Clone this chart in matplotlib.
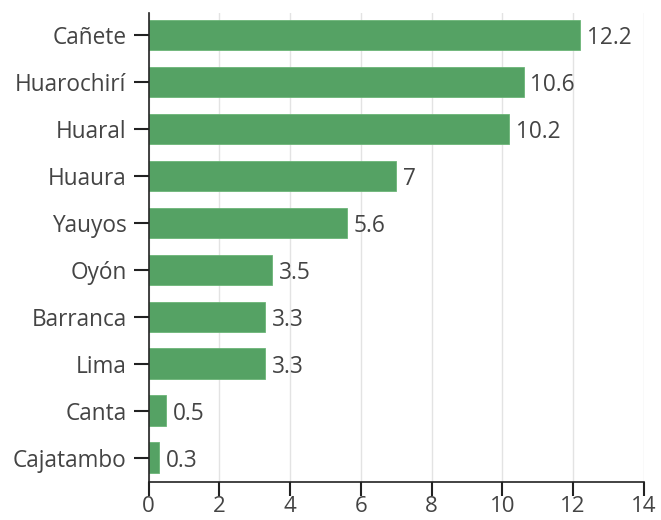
import matplotlib.pyplot as plt

provincias = ['Cañete', 'Huarochirí', 'Huaral', 'Huaura', 'Yauyos',
              'Oyón', 'Barranca', 'Lima', 'Canta', 'Cajatambo']
valores = [12.2, 10.6, 10.2, 7, 5.6, 3.5, 3.3, 3.3, 0.5, 0.3]
etiquetas = ['12.2', '10.6', '10.2', '7', '5.6', '3.5', '3.3', '3.3', '0.5', '0.3']
xticks = [0, 2, 4, 6, 8, 10, 12, 14]

plt.rcParams['font.family'] = ['Open Sans', 'DejaVu Sans']

fig = plt.figure(figsize=(6.61, 5.2), dpi=100)
ax = fig.add_axes([0.225, 0.0731, 0.749, 0.902])

pos = list(range(len(provincias)))
ax.barh(pos, valores, height=0.65, color='#55a264', edgecolor='#6bb577',
        linewidth=0.6, zorder=2)

for p, v, t in zip(pos, valores, etiquetas):
    ax.text(v + 0.18, p, t, va='center_baseline', ha='left', fontsize=16.3,
            color='#444444')

ax.set_yticks(pos)
ax.set_yticklabels(provincias, va='center_baseline')
ax.set_ylim(9.52, -0.475)
ax.set_xlim(0, 14)
ax.set_xticks(xticks)

ax.grid(axis='x', color='#e3e3e3', linewidth=1, zorder=0)
ax.set_axisbelow(True)
for s in ['top', 'right']:
    ax.spines[s].set_visible(False)
for s in ['left', 'bottom']:
    ax.spines[s].set_color('#222222')
    ax.spines[s].set_linewidth(1.2)

ax.tick_params(axis='y', length=11, width=1.5, color='#222222',
               labelsize=16.3, labelcolor='#444444', pad=5)
ax.tick_params(axis='x', length=10, width=1.5, color='#222222',
               labelsize=16, labelcolor='#444444', pad=0)

fig.savefig('out.png', dpi=100)
